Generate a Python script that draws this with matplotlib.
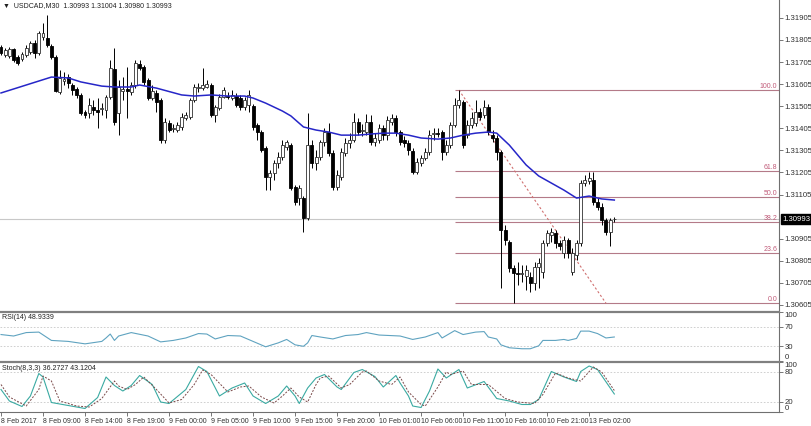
import numpy as np
import matplotlib
matplotlib.use("Agg")
import matplotlib.pyplot as plt
import matplotlib.transforms as mtransforms

plt.rcParams['font.family'] = ['Liberation Sans', 'DejaVu Sans']

# USDCAD M30 candles, oldest first
opens = [1.31773, 1.31737, 1.31732, 1.31764, 1.31728, 1.31719, 1.31737, 1.31750, 1.31791, 1.31746,
         1.31818, 1.31814, 1.31778, 1.31728, 1.31569, 1.31619, 1.31637, 1.31601, 1.31583, 1.31556,
         1.31479, 1.31474, 1.31501, 1.31488, 1.31492, 1.31488, 1.31547, 1.31673, 1.31474, 1.31574,
         1.31583, 1.31569, 1.31601, 1.31696, 1.31682, 1.31624, 1.31542, 1.31565, 1.31533, 1.31352,
         1.31429, 1.31402, 1.31397, 1.31411, 1.31451, 1.31456, 1.31533, 1.31587, 1.31587, 1.31592,
         1.31601, 1.31465, 1.31497, 1.31547, 1.31551, 1.31542, 1.31551, 1.31542, 1.31501, 1.31510,
         1.31506, 1.31420, 1.31388, 1.31316, 1.31184, 1.31202, 1.31248, 1.31275, 1.31320, 1.31329,
         1.31139, 1.31089, 1.31089, 1.30998, 1.31329, 1.31248, 1.31275, 1.31343, 1.31388, 1.31293,
         1.31139, 1.31184, 1.31293, 1.31338, 1.31352, 1.31433, 1.31393, 1.31388, 1.31433, 1.31343,
         1.31352, 1.31406, 1.31374, 1.31433, 1.31451, 1.31388, 1.31352, 1.31338, 1.31302, 1.31207,
         1.31248, 1.31270, 1.31297, 1.31379, 1.31384, 1.31388, 1.31297, 1.31329, 1.31420, 1.31510,
         1.31524, 1.31374, 1.31420, 1.31429, 1.31479, 1.31465, 1.31501, 1.31374, 1.31361, 1.31297,
         1.30944, 1.30890, 1.30772, 1.30749, 1.30745, 1.30736, 1.30731, 1.30704, 1.30777, 1.30754,
         1.30885, 1.30922, 1.30931, 1.30885, 1.30840, 1.30899, 1.30754, 1.30831, 1.30885, 1.31157,
         1.31166, 1.31171, 1.31071, 1.31048, 1.30989, 1.30935, 1.30993]
highs = [1.31782, 1.31769, 1.31773, 1.31769, 1.31737, 1.31750, 1.31782, 1.31800, 1.31805, 1.31846,
         1.31882, 1.31918, 1.31787, 1.31737, 1.31669, 1.31660, 1.31651, 1.31610, 1.31592, 1.31565,
         1.31488, 1.31542, 1.31533, 1.31542, 1.31519, 1.31556, 1.31714, 1.31769, 1.31624, 1.31637,
         1.31682, 1.31615, 1.31714, 1.31714, 1.31692, 1.31633, 1.31601, 1.31578, 1.31542, 1.31451,
         1.31442, 1.31424, 1.31433, 1.31474, 1.31479, 1.31542, 1.31605, 1.31610, 1.31678, 1.31624,
         1.31610, 1.31510, 1.31560, 1.31592, 1.31569, 1.31578, 1.31565, 1.31556, 1.31547, 1.31578,
         1.31515, 1.31429, 1.31397, 1.31325, 1.31216, 1.31261, 1.31297, 1.31352, 1.31352, 1.31338,
         1.31148, 1.31148, 1.31098, 1.31474, 1.31352, 1.31306, 1.31352, 1.31406, 1.31429, 1.31306,
         1.31216, 1.31316, 1.31361, 1.31384, 1.31474, 1.31451, 1.31424, 1.31470, 1.31465, 1.31384,
         1.31424, 1.31420, 1.31461, 1.31470, 1.31465, 1.31397, 1.31370, 1.31352, 1.31316, 1.31270,
         1.31284, 1.31316, 1.31397, 1.31406, 1.31406, 1.31397, 1.31352, 1.31433, 1.31542, 1.31578,
         1.31533, 1.31442, 1.31479, 1.31533, 1.31497, 1.31533, 1.31515, 1.31397, 1.31374, 1.31306,
         1.30967, 1.30899, 1.30786, 1.30799, 1.30786, 1.30786, 1.30754, 1.30799, 1.30817, 1.30899,
         1.30944, 1.30953, 1.30944, 1.30899, 1.30917, 1.30908, 1.30863, 1.30899, 1.31171, 1.31193,
         1.31207, 1.31207, 1.31089, 1.31066, 1.30998, 1.30998, 1.31004]
lows = [1.31737, 1.31728, 1.31723, 1.31705, 1.31692, 1.31710, 1.31728, 1.31741, 1.31723, 1.31737,
        1.31805, 1.31773, 1.31719, 1.31569, 1.31560, 1.31601, 1.31587, 1.31556, 1.31542, 1.31465,
        1.31451, 1.31451, 1.31465, 1.31406, 1.31465, 1.31451, 1.31538, 1.31420, 1.31374, 1.31533,
        1.31451, 1.31556, 1.31587, 1.31669, 1.31601, 1.31533, 1.31533, 1.31479, 1.31338, 1.31338,
        1.31388, 1.31388, 1.31388, 1.31397, 1.31442, 1.31447, 1.31524, 1.31569, 1.31578, 1.31587,
        1.31456, 1.31433, 1.31488, 1.31542, 1.31538, 1.31533, 1.31501, 1.31488, 1.31488, 1.31479,
        1.31397, 1.31352, 1.31297, 1.31125, 1.31125, 1.31171, 1.31225, 1.31261, 1.31306, 1.31125,
        1.31057, 1.31057, 1.30935, 1.30989, 1.31225, 1.31216, 1.31261, 1.31325, 1.31279, 1.31125,
        1.31125, 1.31171, 1.31279, 1.31316, 1.31343, 1.31374, 1.31370, 1.31374, 1.31329, 1.31325,
        1.31338, 1.31352, 1.31352, 1.31420, 1.31370, 1.31329, 1.31320, 1.31284, 1.31198, 1.31198,
        1.31234, 1.31261, 1.31284, 1.31352, 1.31365, 1.31261, 1.31284, 1.31316, 1.31411, 1.31497,
        1.31316, 1.31361, 1.31406, 1.31415, 1.31442, 1.31451, 1.31374, 1.31343, 1.31261, 1.30681,
        1.30876, 1.30754, 1.30613, 1.30695, 1.30709, 1.30672, 1.30663, 1.30672, 1.30681, 1.30727,
        1.30872, 1.30890, 1.30863, 1.30854, 1.30817, 1.30817, 1.30740, 1.30808, 1.30872, 1.31143,
        1.31152, 1.31057, 1.31035, 1.30967, 1.30921, 1.30872, 1.30980]
closes = [1.31746, 1.31759, 1.31764, 1.31714, 1.31701, 1.31741, 1.31769, 1.31791, 1.31746, 1.31837,
          1.31837, 1.31782, 1.31728, 1.31574, 1.31633, 1.31628, 1.31610, 1.31578, 1.31556, 1.31474,
          1.31465, 1.31510, 1.31488, 1.31479, 1.31497, 1.31547, 1.31678, 1.31433, 1.31592, 1.31583,
          1.31574, 1.31601, 1.31701, 1.31678, 1.31615, 1.31542, 1.31574, 1.31524, 1.31352, 1.31433,
          1.31397, 1.31406, 1.31420, 1.31456, 1.31465, 1.31533, 1.31592, 1.31592, 1.31601, 1.31605,
          1.31465, 1.31501, 1.31547, 1.31578, 1.31547, 1.31556, 1.31510, 1.31501, 1.31533, 1.31556,
          1.31411, 1.31388, 1.31306, 1.31184, 1.31202, 1.31248, 1.31275, 1.31329, 1.31343, 1.31134,
          1.31071, 1.31134, 1.30998, 1.31329, 1.31248, 1.31275, 1.31343, 1.31388, 1.31293, 1.31139,
          1.31193, 1.31297, 1.31338, 1.31352, 1.31433, 1.31388, 1.31397, 1.31433, 1.31343, 1.31361,
          1.31406, 1.31374, 1.31442, 1.31451, 1.31388, 1.31343, 1.31338, 1.31306, 1.31207, 1.31252,
          1.31270, 1.31297, 1.31374, 1.31384, 1.31379, 1.31297, 1.31329, 1.31420, 1.31510, 1.31533,
          1.31329, 1.31420, 1.31451, 1.31479, 1.31456, 1.31501, 1.31388, 1.31361, 1.31297, 1.30944,
          1.30899, 1.30772, 1.30749, 1.30745, 1.30749, 1.30763, 1.30704, 1.30777, 1.30795, 1.30885,
          1.30931, 1.30935, 1.30885, 1.30872, 1.30899, 1.30840, 1.30840, 1.30885, 1.31157, 1.31171,
          1.31180, 1.31071, 1.31048, 1.30989, 1.30935, 1.30989, 1.30993]

# moving average (blue line), read at selected bars
ma_bars = [0, 12, 16, 19, 24, 27, 31, 33, 37, 43, 46, 50, 54, 58, 60, 63, 67, 69, 72, 75, 78, 81,
           85, 88, 91, 94, 97, 100, 104, 107, 110, 113, 116, 118, 121, 125, 128, 131, 134, 137,
           140, 143, 146]
ma_vals = [1.31565, 1.31637, 1.31633, 1.31615, 1.31596, 1.31592, 1.31592, 1.31601, 1.31587, 1.31556,
           1.31551, 1.31556, 1.31551, 1.31551, 1.31542, 1.31519, 1.31483, 1.31461, 1.31411, 1.31397,
           1.31388, 1.31374, 1.31374, 1.31379, 1.31383, 1.31383, 1.31374, 1.31361, 1.31356, 1.31361,
           1.31374, 1.31383, 1.31388, 1.31383, 1.31329, 1.31239, 1.31189, 1.31157, 1.31125, 1.31089,
           1.31098, 1.31085, 1.31080]

rsi_bars = [0, 3, 6, 9, 12, 16, 20, 24, 25, 26, 27, 28, 31, 35, 38, 41, 44, 47, 49, 51, 54, 57, 60,
            63, 66, 68, 70, 72, 73, 74, 76, 79, 82, 85, 87, 90, 95, 98, 101, 104, 105, 108, 110,
            113, 115, 116, 118, 119, 121, 124, 126, 128, 129, 132, 134, 135, 137, 138, 140, 142,
            144, 146]
rsi_vals = [54, 51, 58, 59, 42, 40, 35, 40, 47, 55, 42, 51, 58, 51, 39, 42, 47, 56, 55, 45, 52, 51, 40,
            29, 37, 44, 33, 30, 37, 52, 49, 45, 52, 54, 58, 53, 51, 44, 49, 58, 47, 62, 54,
            59, 60, 49, 45, 33, 27, 25, 25, 31, 42, 42, 44, 42, 46, 61, 61, 56,
            47, 49]

stoch_bars = [0, 2, 5, 7, 9, 10, 12, 16, 20, 23, 25, 27, 29, 31, 33, 36, 38, 40, 44, 47, 49, 52, 55,
              58, 60, 63, 66, 68, 70, 71, 73, 75, 77, 80, 81, 84, 86, 89, 91, 94, 95, 97, 98, 100,
              102, 104, 106, 109, 111, 115, 118, 121, 124, 126, 128, 131, 134, 137, 138, 140, 142,
              146]
stoch_main = [45, 22, 11, 32, 77, 70, 19, 13, 7, 29, 70, 53, 42, 53, 73, 55, 20, 17, 45, 91, 81, 32, 48,
              58, 32, 17, 32, 52, 32, 17, 48, 68, 75, 50, 45, 79, 85, 71, 50, 73, 58, 32, 12, 9,
              42, 86, 68, 85, 48, 61, 27, 22, 15, 15, 25, 81, 70, 61, 81, 92, 85,
              36]
signal_bars = [0, 2, 6, 9, 10, 12, 14, 18, 21, 24, 27, 28, 30, 32, 34, 37, 40, 43, 46, 48, 50, 54, 57,
               59, 62, 65, 67, 69, 71, 73, 75, 76, 78, 81, 83, 86, 87, 90, 93, 95, 97, 100, 101,
               104, 106, 107, 110, 112, 116, 120, 123, 127, 129, 132, 135, 138, 141, 143, 146]
stoch_signal = [55, 30, 12, 45, 72, 62, 22, 12, 10, 27, 62, 52, 45, 55, 70, 45, 18, 25, 55, 84, 75, 40,
                50, 52, 30, 18, 32, 48, 30, 20, 55, 68, 72, 48, 55, 80, 82, 62, 55, 70, 40, 15, 12,
                50, 80, 75, 82, 55, 55, 27, 20, 17, 35, 78, 68, 62, 90, 80, 43]

fib_pcts = [0.0, 23.6, 38.2, 50.0, 61.8, 100.0]
fib_high, fib_low = 1.31578, 1.30613
fib_start, fib_end = 109, 144  # bars of the swing high / swing low
last_price = 1.30993

price_ticks = [1.31905, 1.31805, 1.31705, 1.31605, 1.31505, 1.31405, 1.31305,
               1.31205, 1.31105, 1.30905, 1.30805, 1.30705, 1.30605]
time_ticks = list(range(0, 150, 10))
time_labels = ['8 Feb 2017', '8 Feb 09:00', '8 Feb 14:00', '8 Feb 19:00', '9 Feb 00:00',
               '9 Feb 05:00', '9 Feb 10:00', '9 Feb 15:00', '9 Feb 20:00', '10 Feb 01:00',
               '10 Feb 06:00', '10 Feb 11:00', '10 Feb 16:00', '10 Feb 21:00', '13 Feb 02:00']

W, H = 811, 426
fig = plt.figure(figsize=(W / 100, H / 100), dpi=100)
fig.patch.set_facecolor('white')


def box(x0, y0, x1, y1):
    return [x0 / W, 1 - y1 / H, (x1 - x0) / W, (y1 - y0) / H]


ax = fig.add_axes(box(0, 0, 779, 310))
ax_rsi = fig.add_axes(box(0, 312, 779, 361))
ax_st = fig.add_axes(box(0, 362, 779, 412))

xmax = 185.2
fs = 5
yfs = 5.6
tick_col = '#303030'
for a in (ax, ax_rsi, ax_st):
    a.set_xlim(-0.24, xmax)
    a.yaxis.tick_right()
    a.tick_params(axis='y', length=3, width=0.6, color='#606060', labelsize=yfs,
                  labelcolor=tick_col, pad=1)
    a.spines['left'].set_visible(False)
    a.spines['right'].set_color('#707070')
    a.spines['right'].set_linewidth(0.8)

# --- main price panel ---
o = np.array(opens)
h = np.array(highs)
l = np.array(lows)
c = np.array(closes)
x = np.arange(len(c))
up = c >= o
ax.vlines(x, l, h, color='black', lw=0.7, zorder=2)
body = np.maximum(np.abs(c - o), 0.000015)
ax.bar(x[up], body[up], bottom=o[up], width=0.7, facecolor='white', edgecolor='#303030',
       lw=0.6, zorder=2.5)
ax.bar(x[~up], body[~up], bottom=c[~up], width=0.7, facecolor='black', edgecolor='black',
       lw=0.6, zorder=2.5)

ax.plot(ma_bars, ma_vals, color='#2626c8', lw=1.1, zorder=3)
ax.axhline(last_price, color='#c8c8c8', lw=0.8, zorder=1)

fib_col = '#b47a88'
for p in fib_pcts:
    lev = fib_low + (fib_high - fib_low) * p / 100
    ax.hlines(lev, fib_start - 1, xmax, color=fib_col, lw=0.8, zorder=1.5)
    ax.text(xmax - 0.4, lev, f'{p:.1f}', ha='right', va='bottom', fontsize=fs,
            color='#c05a78')
ax.plot([fib_start, fib_end], [fib_high, fib_low], color='#d07070', lw=0.8,
        ls=(0, (2, 2)), zorder=1.5)

ax.set_ylim(1.30582, 1.31986)
ax.set_yticks(price_ticks)
ax.set_yticklabels([f'{t:.5f}' for t in price_ticks])
ax.set_xticks([])
ax.spines['top'].set_visible(False)
ax.spines['bottom'].set_visible(False)

tr = mtransforms.blended_transform_factory(ax.transAxes, ax.transData)
ax.text(1.004, last_price, f'{last_price:.5f}', transform=tr, fontsize=yfs, color='white',
        va='center', ha='left', clip_on=False,
        bbox=dict(facecolor='black', edgecolor='black', boxstyle='square,pad=0.2'))

fig.text(3 / W, 1 - 6 / H, '\u25BC  USDCAD,M30  1.30993 1.31004 1.30980 1.30993',
         fontsize=5, va='center', ha='left', color='#202020')

# --- RSI panel ---
lvl_style = dict(color='#c8c8c8', lw=0.6, ls=(0, (2, 2)), zorder=1)
ax_rsi.axhline(70, **lvl_style)
ax_rsi.axhline(30, **lvl_style)
ax_rsi.plot(rsi_bars, rsi_vals, color='#5fa3c0', lw=0.8)
ax_rsi.set_ylim(0, 100)
ax_rsi.set_yticks([0, 30, 70, 100])
ax_rsi.set_yticklabels(['0', '30', '70', '100'])
ax_rsi.set_xticks([])
ax_rsi.text(0.003, 0.95, 'RSI(14) 48.9339', transform=ax_rsi.transAxes, fontsize=fs,
            va='top', ha='left', color='#202020')

# --- Stochastic panel ---
ax_st.axhline(80, **lvl_style)
ax_st.axhline(20, **lvl_style)
ax_st.plot(stoch_bars, stoch_main, color='#3aaaa2', lw=0.8)
ax_st.plot(signal_bars, stoch_signal, color='#7a4a4a', lw=0.7, ls=(0, (2, 1.5)))
ax_st.set_ylim(0, 100)
ax_st.set_yticks([0, 20, 80, 100])
ax_st.set_yticklabels(['0', '20', '80', '100'])
ax_st.text(0.003, 0.95, 'Stoch(8,3,3) 36.2727 43.1204', transform=ax_st.transAxes,
           fontsize=fs, va='top', ha='left', color='#202020')
ax_st.set_xticks(time_ticks)
ax_st.set_xticklabels(time_labels)
ax_st.tick_params(axis='x', length=3, width=0.6, color='#606060', labelsize=fs,
                  labelcolor=tick_col, pad=1)
for lab in ax_st.get_xticklabels():
    lab.set_horizontalalignment('left')

for a in (ax_rsi, ax_st):
    labs = a.get_yticklabels()
    labs[0].set_verticalalignment('bottom')
    labs[-1].set_verticalalignment('top')
    a.spines['top'].set_color('#808080')
    a.spines['top'].set_linewidth(1.6)
ax_rsi.spines['bottom'].set_visible(False)
ax_st.spines['bottom'].set_color('#707070')
ax_st.spines['bottom'].set_linewidth(0.8)

fig.savefig('out.png', dpi=100, facecolor='white')
